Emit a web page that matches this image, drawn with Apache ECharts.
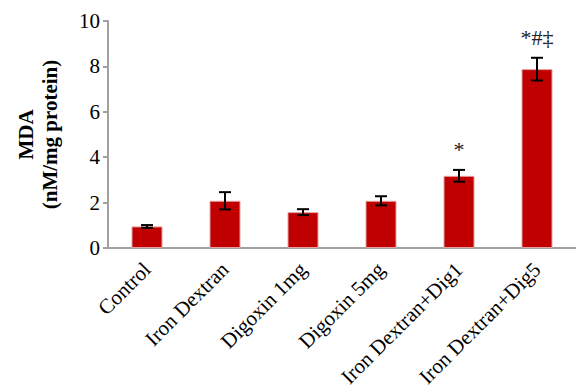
<!DOCTYPE html>
<html>
<head>
<meta charset="utf-8">
<script src="https://cdn.jsdelivr.net/npm/echarts@6/dist/echarts.min.js"></script>
<style>
  html, body { margin: 0; padding: 0; background: #fff; }
  #chart { width: 576px; height: 392px; }
</style>
</head>
<body>
<div id="chart"></div>
<script>
const categories = ['Control', 'Iron Dextran', 'Digoxin 1mg', 'Digoxin 5mg', 'Iron Dextran+Dig1', 'Iron Dextran+Dig5'];
const mdaValues = [0.95, 2.08, 1.58, 2.08, 3.18, 7.88];
const mdaErrors = [0.06, 0.38, 0.13, 0.2, 0.26, 0.5];
const marks = ['', '', '', '', '*', '*#‡'];
const yTicks = { min: 0, max: 10, interval: 2 };

const chart = echarts.init(document.getElementById('chart'), null, { renderer: 'svg' });
const font = '"Liberation Serif", "Times New Roman", serif';

const errData = mdaValues.map(function (v, i) {
    return [i, v - mdaErrors[i], v + mdaErrors[i], marks[i]];
});

const option = {
    animation: false,
    grid: { left: 108, right: -1, top: 21, bottom: 144 },
    xAxis: {
        type: 'category',
        data: categories,
        axisLine: { lineStyle: { color: '#a0a0a0', width: 2 } },
        axisTick: { lineStyle: { color: '#a0a0a0', width: 2 }, length: 5 },
        axisLabel: {
            rotate: 45, margin: 18, color: '#000',
            fontFamily: font, fontSize: 21, interval: 0
        }
    },
    yAxis: {
        type: 'value',
        min: yTicks.min, max: yTicks.max, interval: yTicks.interval,
        name: '{b|MDA}\n{b|(nM/mg protein)}',
        nameLocation: 'middle',
        nameRotate: 90,
        nameGap: 46,
        nameTextStyle: {
            rich: { b: { fontFamily: font, fontSize: 21, fontWeight: 'bold', color: '#000', lineHeight: 24 } }
        },
        splitLine: { show: false },
        axisLine: { show: true, lineStyle: { color: '#a0a0a0', width: 2 } },
        axisTick: { show: true, lineStyle: { color: '#a0a0a0', width: 2 }, length: 5 },
        axisLabel: { color: '#000', fontFamily: font, fontSize: 21, margin: 8 }
    },
    series: [
        {
            type: 'bar',
            data: mdaValues,
            barWidth: 31,
            itemStyle: { color: '#c00000', borderColor: '#e6a0a0', borderWidth: 1 }
        },
        {
            type: 'custom',
            data: errData,
            z: 10,
            renderItem: function (params, api) {
                const x = api.coord([api.value(0), 0])[0];
                const lo = api.coord([api.value(0), api.value(1)])[1];
                const hi = api.coord([api.value(0), api.value(2)])[1];
                const half = 6;
                const style = { stroke: '#000', lineWidth: 2 };
                const children = [
                    { type: 'line', shape: { x1: x, y1: lo, x2: x, y2: hi }, style: style },
                    { type: 'line', shape: { x1: x - half, y1: lo, x2: x + half, y2: lo }, style: style },
                    { type: 'line', shape: { x1: x - half, y1: hi, x2: x + half, y2: hi }, style: style }
                ];
                const mark = errData[params.dataIndex][3];
                if (mark) {
                    children.push({
                        type: 'text',
                        style: {
                            x: x, y: hi - 20, text: mark,
                            align: 'center', verticalAlign: 'middle',
                            fill: '#222', fontFamily: font, fontSize: 22
                        }
                    });
                }
                return { type: 'group', children: children };
            }
        }
    ]
};

chart.setOption(option);
window.addEventListener('resize', function () { chart.resize(); });
</script>
</body>
</html>
